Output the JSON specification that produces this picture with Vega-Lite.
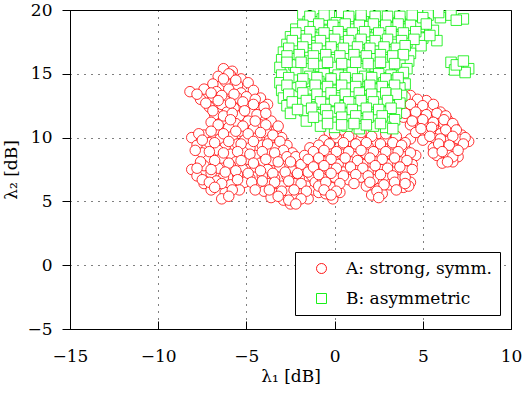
{
  "$schema": "https://vega.github.io/schema/vega-lite/v6.json",
  "width": 441,
  "height": 319,
  "autosize": "none",
  "padding": {"left": 70, "top": 10, "right": 13, "bottom": 67},
  "background": "white",
  "data": {"values": [
    {"s":"A","x":-6.3,"y":15.4},{"s":"A","x":-5.8,"y":15.2},
    {"s":"A","x":-6.6,"y":14.8},{"s":"A","x":-5.9,"y":14.9},{"s":"A","x":-5.3,"y":14.6},
    {"s":"A","x":-6.9,"y":14.2},{"s":"A","x":-6.2,"y":14.4},{"s":"A","x":-5.5,"y":14.1},{"s":"A","x":-4.9,"y":14.3},
    {"s":"A","x":-8.2,"y":13.6},{"s":"A","x":-7.4,"y":13.8},{"s":"A","x":-6.7,"y":13.6},{"s":"A","x":-6.0,"y":13.8},{"s":"A","x":-5.3,"y":13.5},{"s":"A","x":-4.6,"y":13.7},
    {"s":"A","x":-7.6,"y":13.0},{"s":"A","x":-6.9,"y":13.2},{"s":"A","x":-6.2,"y":12.9},{"s":"A","x":-5.5,"y":13.1},{"s":"A","x":-4.8,"y":12.9},{"s":"A","x":-4.2,"y":13.1},
    {"s":"A","x":-7.1,"y":12.4},{"s":"A","x":-6.4,"y":12.6},{"s":"A","x":-5.7,"y":12.3},{"s":"A","x":-5.0,"y":12.5},{"s":"A","x":-4.3,"y":12.3},{"s":"A","x":-3.8,"y":12.6},
    {"s":"A","x":-6.8,"y":11.8},{"s":"A","x":-6.1,"y":12.0},{"s":"A","x":-5.4,"y":11.7},{"s":"A","x":-4.7,"y":11.9},{"s":"A","x":-4.0,"y":11.7},
    {"s":"A","x":-7.0,"y":11.2},{"s":"A","x":-6.3,"y":11.4},{"s":"A","x":-5.6,"y":11.1},{"s":"A","x":-4.9,"y":11.3},{"s":"A","x":-4.2,"y":11.0},{"s":"A","x":-3.6,"y":11.3},
    {"s":"A","x":-6.7,"y":10.6},{"s":"A","x":-6.0,"y":10.8},{"s":"A","x":-5.3,"y":10.5},{"s":"A","x":-4.6,"y":10.7},{"s":"A","x":-3.9,"y":10.4},{"s":"A","x":-3.3,"y":10.6},
    {"s":"A","x":-8.1,"y":10.0},{"s":"A","x":-7.4,"y":10.2},{"s":"A","x":-6.5,"y":9.9},{"s":"A","x":-5.8,"y":10.1},{"s":"A","x":-5.1,"y":9.8},{"s":"A","x":-4.4,"y":10.0},{"s":"A","x":-3.7,"y":9.8},{"s":"A","x":-3.0,"y":10.0},
    {"s":"A","x":-7.8,"y":9.4},{"s":"A","x":-7.1,"y":9.6},{"s":"A","x":-6.2,"y":9.3},{"s":"A","x":-5.5,"y":9.5},{"s":"A","x":-4.8,"y":9.2},{"s":"A","x":-4.1,"y":9.4},{"s":"A","x":-3.4,"y":9.2},{"s":"A","x":-2.7,"y":9.4},
    {"s":"A","x":-7.5,"y":8.8},{"s":"A","x":-6.6,"y":9.0},{"s":"A","x":-5.9,"y":8.7},{"s":"A","x":-5.2,"y":8.9},{"s":"A","x":-4.5,"y":8.6},{"s":"A","x":-3.8,"y":8.8},{"s":"A","x":-3.1,"y":8.6},{"s":"A","x":-2.4,"y":8.8},
    {"s":"A","x":-7.2,"y":8.2},{"s":"A","x":-6.4,"y":8.4},{"s":"A","x":-5.6,"y":8.1},{"s":"A","x":-4.9,"y":8.3},{"s":"A","x":-4.2,"y":8.0},{"s":"A","x":-3.5,"y":8.2},{"s":"A","x":-2.8,"y":8.0},{"s":"A","x":-2.1,"y":8.2},
    {"s":"A","x":-8.1,"y":7.5},{"s":"A","x":-7.4,"y":7.8},{"s":"A","x":-6.6,"y":7.6},{"s":"A","x":-5.9,"y":7.8},{"s":"A","x":-5.2,"y":7.5},{"s":"A","x":-4.5,"y":7.7},{"s":"A","x":-3.8,"y":7.5},{"s":"A","x":-3.1,"y":7.7},{"s":"A","x":-2.4,"y":7.4},{"s":"A","x":-1.7,"y":7.6},
    {"s":"A","x":-7.8,"y":7.0},{"s":"A","x":-7.0,"y":7.2},{"s":"A","x":-6.3,"y":6.9},{"s":"A","x":-5.5,"y":7.1},{"s":"A","x":-4.8,"y":6.8},{"s":"A","x":-4.1,"y":7.0},{"s":"A","x":-3.4,"y":6.8},{"s":"A","x":-2.7,"y":7.0},{"s":"A","x":-2.0,"y":6.8},{"s":"A","x":-1.3,"y":7.0},
    {"s":"A","x":-7.4,"y":6.4},{"s":"A","x":-6.7,"y":6.6},{"s":"A","x":-5.9,"y":6.3},{"s":"A","x":-5.1,"y":6.5},{"s":"A","x":-4.4,"y":6.2},{"s":"A","x":-3.7,"y":6.4},{"s":"A","x":-3.0,"y":6.2},{"s":"A","x":-2.3,"y":6.4},{"s":"A","x":-1.6,"y":6.2},
    {"s":"A","x":-7.0,"y":5.9},{"s":"A","x":-6.2,"y":5.7},{"s":"A","x":-5.4,"y":5.9},{"s":"A","x":-4.0,"y":5.8},{"s":"A","x":-3.3,"y":5.6},{"s":"A","x":-2.6,"y":5.8},{"s":"A","x":-1.9,"y":5.6},{"s":"A","x":-1.2,"y":5.9},
    {"s":"A","x":-6.4,"y":5.2},{"s":"A","x":-3.6,"y":5.3},{"s":"A","x":-2.9,"y":5.1},{"s":"A","x":-2.2,"y":5.3},{"s":"A","x":-1.5,"y":5.2},
    {"s":"A","x":-2.5,"y":4.8},
    {"s":"A","x":-6.0,"y":15.0},{"s":"A","x":-6.3,"y":14.6},{"s":"A","x":-5.6,"y":14.5},{"s":"A","x":-7.8,"y":13.4},{"s":"A","x":-7.0,"y":13.5},{"s":"A","x":-6.4,"y":13.3},{"s":"A","x":-5.7,"y":13.4},{"s":"A","x":-5.0,"y":13.2},{"s":"A","x":-4.5,"y":13.0},
    {"s":"A","x":-7.3,"y":12.7},{"s":"A","x":-6.6,"y":12.9},{"s":"A","x":-5.9,"y":12.7},{"s":"A","x":-5.2,"y":12.8},{"s":"A","x":-4.6,"y":12.6},{"s":"A","x":-4.0,"y":12.4},
    {"s":"A","x":-6.9,"y":12.1},{"s":"A","x":-6.3,"y":11.7},{"s":"A","x":-5.8,"y":11.9},{"s":"A","x":-5.1,"y":12.1},{"s":"A","x":-4.4,"y":11.8},{"s":"A","x":-3.9,"y":11.9},
    {"s":"A","x":-6.6,"y":11.0},{"s":"A","x":-5.9,"y":11.4},{"s":"A","x":-5.2,"y":10.9},{"s":"A","x":-4.5,"y":11.3},{"s":"A","x":-3.9,"y":11.0},
    {"s":"A","x":-7.7,"y":10.3},{"s":"A","x":-7.0,"y":10.5},{"s":"A","x":-6.3,"y":10.3},{"s":"A","x":-5.6,"y":10.5},{"s":"A","x":-4.9,"y":10.3},{"s":"A","x":-4.2,"y":10.4},{"s":"A","x":-3.5,"y":10.2},{"s":"A","x":-3.2,"y":10.9},
    {"s":"A","x":-7.5,"y":9.8},{"s":"A","x":-6.8,"y":9.6},{"s":"A","x":-6.0,"y":9.7},{"s":"A","x":-5.3,"y":9.5},{"s":"A","x":-4.6,"y":9.7},{"s":"A","x":-3.8,"y":9.5},{"s":"A","x":-3.1,"y":9.7},{"s":"A","x":-2.9,"y":9.0},
    {"s":"A","x":-7.9,"y":9.0},{"s":"A","x":-7.1,"y":8.9},{"s":"A","x":-6.3,"y":8.8},{"s":"A","x":-5.5,"y":8.9},{"s":"A","x":-4.8,"y":8.7},{"s":"A","x":-4.1,"y":8.9},{"s":"A","x":-3.4,"y":8.8},{"s":"A","x":-2.7,"y":8.5},{"s":"A","x":-2.2,"y":8.5},
    {"s":"A","x":-7.6,"y":8.1},{"s":"A","x":-6.8,"y":8.2},{"s":"A","x":-6.0,"y":8.0},{"s":"A","x":-5.3,"y":8.2},{"s":"A","x":-4.6,"y":8.0},{"s":"A","x":-3.9,"y":8.3},{"s":"A","x":-3.2,"y":8.1},{"s":"A","x":-2.5,"y":8.1},{"s":"A","x":-1.9,"y":7.9},
    {"s":"A","x":-7.8,"y":7.6},{"s":"A","x":-7.0,"y":7.5},{"s":"A","x":-6.2,"y":7.3},{"s":"A","x":-5.6,"y":7.4},{"s":"A","x":-4.9,"y":7.2},{"s":"A","x":-4.2,"y":7.4},{"s":"A","x":-3.5,"y":7.2},{"s":"A","x":-2.8,"y":7.3},{"s":"A","x":-2.1,"y":7.2},{"s":"A","x":-1.5,"y":7.3},
    {"s":"A","x":-7.5,"y":6.7},{"s":"A","x":-7.1,"y":6.5},{"s":"A","x":-6.4,"y":6.4},{"s":"A","x":-5.5,"y":6.7},{"s":"A","x":-4.7,"y":6.5},{"s":"A","x":-4.1,"y":6.6},{"s":"A","x":-3.4,"y":6.5},{"s":"A","x":-2.6,"y":6.6},{"s":"A","x":-1.9,"y":6.4},{"s":"A","x":-1.1,"y":6.5},
    {"s":"A","x":-6.8,"y":6.1},{"s":"A","x":-5.8,"y":5.9},{"s":"A","x":-4.5,"y":5.9},{"s":"A","x":-3.7,"y":5.9},{"s":"A","x":-3.0,"y":5.8},{"s":"A","x":-2.3,"y":5.9},{"s":"A","x":-1.6,"y":5.8},{"s":"A","x":-0.9,"y":5.7},
    {"s":"A","x":-6.0,"y":5.4},{"s":"A","x":-3.2,"y":5.4},{"s":"A","x":-2.6,"y":5.1},{"s":"A","x":-1.9,"y":5.2},{"s":"A","x":-2.2,"y":4.8},
    {"s":"A","x":-0.3,"y":10.4},{"s":"A","x":0.4,"y":10.6},{"s":"A","x":1.1,"y":10.3},{"s":"A","x":1.8,"y":10.5},{"s":"A","x":2.5,"y":10.3},{"s":"A","x":3.2,"y":10.5},
    {"s":"A","x":-0.6,"y":9.8},{"s":"A","x":0.1,"y":10.0},{"s":"A","x":0.8,"y":9.7},{"s":"A","x":1.5,"y":9.9},{"s":"A","x":2.2,"y":9.7},{"s":"A","x":2.9,"y":9.9},{"s":"A","x":3.6,"y":9.7},{"s":"A","x":4.3,"y":9.9},
    {"s":"A","x":-1.4,"y":9.2},{"s":"A","x":-0.9,"y":9.4},{"s":"A","x":-0.2,"y":9.1},{"s":"A","x":0.5,"y":9.3},{"s":"A","x":1.2,"y":9.1},{"s":"A","x":1.9,"y":9.3},{"s":"A","x":2.6,"y":9.1},{"s":"A","x":3.3,"y":9.3},{"s":"A","x":4.0,"y":9.1},
    {"s":"A","x":-1.7,"y":8.6},{"s":"A","x":-1.0,"y":8.7},{"s":"A","x":-0.3,"y":8.5},{"s":"A","x":0.4,"y":8.7},{"s":"A","x":1.1,"y":8.5},{"s":"A","x":1.8,"y":8.7},{"s":"A","x":2.5,"y":8.5},{"s":"A","x":3.2,"y":8.7},{"s":"A","x":3.9,"y":8.5},{"s":"A","x":4.6,"y":8.6},
    {"s":"A","x":-1.3,"y":8.0},{"s":"A","x":-0.6,"y":8.1},{"s":"A","x":0.2,"y":7.9},{"s":"A","x":0.9,"y":8.1},{"s":"A","x":1.6,"y":7.9},{"s":"A","x":2.3,"y":8.1},{"s":"A","x":3.0,"y":7.9},{"s":"A","x":3.7,"y":8.1},{"s":"A","x":4.4,"y":7.9},
    {"s":"A","x":-1.0,"y":7.4},{"s":"A","x":-0.3,"y":7.5},{"s":"A","x":0.5,"y":7.3},{"s":"A","x":1.2,"y":7.5},{"s":"A","x":1.9,"y":7.3},{"s":"A","x":2.6,"y":7.5},{"s":"A","x":3.3,"y":7.3},{"s":"A","x":4.0,"y":7.4},
    {"s":"A","x":-0.7,"y":6.8},{"s":"A","x":0.0,"y":6.9},{"s":"A","x":0.8,"y":6.7},{"s":"A","x":1.5,"y":6.9},{"s":"A","x":2.2,"y":6.7},{"s":"A","x":2.9,"y":6.9},{"s":"A","x":3.6,"y":6.7},{"s":"A","x":4.3,"y":6.5},
    {"s":"A","x":-0.9,"y":6.2},{"s":"A","x":-0.2,"y":6.1},{"s":"A","x":1.8,"y":6.2},{"s":"A","x":2.5,"y":6.0},{"s":"A","x":3.1,"y":6.3},{"s":"A","x":3.9,"y":6.1},
    {"s":"A","x":-0.5,"y":5.6},{"s":"A","x":0.3,"y":5.7},{"s":"A","x":2.1,"y":5.5},{"s":"A","x":2.7,"y":5.6},{"s":"A","x":4.2,"y":6.2},
    {"s":"A","x":-0.1,"y":5.2},
    {"s":"A","x":0.0,"y":10.3},{"s":"A","x":0.8,"y":10.1},{"s":"A","x":1.5,"y":10.4},{"s":"A","x":2.1,"y":10.1},{"s":"A","x":2.9,"y":10.3},{"s":"A","x":3.5,"y":10.1},{"s":"A","x":4.0,"y":9.6},
    {"s":"A","x":-0.3,"y":9.5},{"s":"A","x":0.5,"y":9.6},{"s":"A","x":1.2,"y":9.5},{"s":"A","x":1.8,"y":9.6},{"s":"A","x":2.6,"y":9.5},{"s":"A","x":3.3,"y":9.6},{"s":"A","x":3.8,"y":9.4},
    {"s":"A","x":-1.2,"y":8.9},{"s":"A","x":-0.6,"y":9.0},{"s":"A","x":0.1,"y":8.9},{"s":"A","x":0.8,"y":8.9},{"s":"A","x":1.5,"y":9.0},{"s":"A","x":2.2,"y":8.9},{"s":"A","x":2.9,"y":8.9},{"s":"A","x":3.6,"y":8.9},{"s":"A","x":4.3,"y":8.8},
    {"s":"A","x":-1.5,"y":8.3},{"s":"A","x":-0.9,"y":8.4},{"s":"A","x":-0.2,"y":8.3},{"s":"A","x":0.6,"y":8.4},{"s":"A","x":1.3,"y":8.2},{"s":"A","x":2.0,"y":8.4},{"s":"A","x":2.7,"y":8.3},{"s":"A","x":3.4,"y":8.4},{"s":"A","x":4.1,"y":8.2},
    {"s":"A","x":-1.2,"y":7.7},{"s":"A","x":-0.6,"y":7.8},{"s":"A","x":0.1,"y":7.6},{"s":"A","x":0.9,"y":7.7},{"s":"A","x":1.6,"y":7.6},{"s":"A","x":2.3,"y":7.8},{"s":"A","x":3.0,"y":7.6},{"s":"A","x":3.7,"y":7.7},{"s":"A","x":4.4,"y":7.5},
    {"s":"A","x":-0.9,"y":7.1},{"s":"A","x":-0.2,"y":7.2},{"s":"A","x":0.5,"y":7.0},{"s":"A","x":1.2,"y":7.1},{"s":"A","x":1.9,"y":7.0},{"s":"A","x":2.6,"y":7.1},{"s":"A","x":3.3,"y":7.0},{"s":"A","x":4.0,"y":6.9},
    {"s":"A","x":-0.5,"y":6.5},{"s":"A","x":0.3,"y":6.4},{"s":"A","x":1.1,"y":6.4},{"s":"A","x":2.0,"y":6.5},{"s":"A","x":2.8,"y":6.3},{"s":"A","x":3.4,"y":6.5},{"s":"A","x":4.0,"y":6.4},
    {"s":"A","x":-0.6,"y":5.9},{"s":"A","x":0.1,"y":5.8},{"s":"A","x":2.4,"y":5.8},{"s":"A","x":3.5,"y":5.9},{"s":"A","x":-0.2,"y":5.5},{"s":"A","x":2.5,"y":5.3},
    {"s":"A","x":2.9,"y":13.4},{"s":"A","x":3.6,"y":13.6},{"s":"A","x":4.3,"y":13.3},
    {"s":"A","x":3.2,"y":12.8},{"s":"A","x":3.9,"y":12.9},{"s":"A","x":4.6,"y":12.7},{"s":"A","x":5.2,"y":12.9},
    {"s":"A","x":3.5,"y":12.2},{"s":"A","x":4.2,"y":12.3},{"s":"A","x":4.9,"y":12.1},{"s":"A","x":5.5,"y":12.3},{"s":"A","x":6.0,"y":12.0},
    {"s":"A","x":3.9,"y":11.6},{"s":"A","x":4.6,"y":11.7},{"s":"A","x":5.3,"y":11.5},{"s":"A","x":5.9,"y":11.7},{"s":"A","x":6.4,"y":11.4},
    {"s":"A","x":4.3,"y":11.0},{"s":"A","x":5.0,"y":11.1},{"s":"A","x":5.6,"y":10.9},{"s":"A","x":6.2,"y":11.1},{"s":"A","x":6.8,"y":10.8},
    {"s":"A","x":4.6,"y":10.4},{"s":"A","x":5.3,"y":10.5},{"s":"A","x":6.0,"y":10.3},{"s":"A","x":6.6,"y":10.5},{"s":"A","x":7.2,"y":10.2},
    {"s":"A","x":5.0,"y":9.8},{"s":"A","x":5.7,"y":9.9},{"s":"A","x":6.4,"y":9.7},{"s":"A","x":7.0,"y":9.9},{"s":"A","x":7.6,"y":9.7},
    {"s":"A","x":5.6,"y":9.2},{"s":"A","x":6.2,"y":9.3},{"s":"A","x":6.8,"y":9.1},
    {"s":"A","x":5.8,"y":8.6},{"s":"A","x":6.4,"y":8.7},{"s":"A","x":7.0,"y":8.5},
    {"s":"A","x":6.1,"y":8.0},{"s":"A","x":6.7,"y":8.1},
    {"s":"A","x":3.3,"y":13.1},{"s":"A","x":4.0,"y":13.2},{"s":"A","x":4.7,"y":13.0},{"s":"A","x":3.6,"y":12.5},{"s":"A","x":4.3,"y":12.6},{"s":"A","x":5.0,"y":12.5},{"s":"A","x":5.6,"y":12.6},
    {"s":"A","x":4.0,"y":11.9},{"s":"A","x":4.6,"y":12.0},{"s":"A","x":5.2,"y":11.8},{"s":"A","x":5.8,"y":11.9},{"s":"A","x":6.3,"y":11.7},
    {"s":"A","x":4.4,"y":11.3},{"s":"A","x":5.0,"y":11.4},{"s":"A","x":5.6,"y":11.2},{"s":"A","x":6.2,"y":11.4},{"s":"A","x":6.7,"y":11.1},
    {"s":"A","x":4.9,"y":10.7},{"s":"A","x":5.5,"y":10.8},{"s":"A","x":6.3,"y":10.6},{"s":"A","x":6.9,"y":10.6},{"s":"A","x":7.4,"y":10.0},
    {"s":"A","x":5.4,"y":10.1},{"s":"A","x":6.0,"y":9.9},{"s":"A","x":6.7,"y":10.1},{"s":"A","x":7.3,"y":9.5},
    {"s":"A","x":5.9,"y":9.5},{"s":"A","x":6.5,"y":9.4},{"s":"A","x":5.6,"y":8.8},{"s":"A","x":6.1,"y":8.9},{"s":"A","x":6.7,"y":8.5},{"s":"A","x":6.4,"y":8.1},{"s":"A","x":7.0,"y":9.0},
    {"s":"B","x":-1.8,"y":19.7},{"s":"B","x":-1.0,"y":19.9},{"s":"B","x":-0.3,"y":19.6},{"s":"B","x":0.4,"y":19.8},{"s":"B","x":1.1,"y":19.7},{"s":"B","x":1.9,"y":19.9},{"s":"B","x":2.6,"y":19.6},{"s":"B","x":3.3,"y":19.8},{"s":"B","x":4.0,"y":19.7},{"s":"B","x":4.7,"y":19.9},{"s":"B","x":5.3,"y":19.6},
    {"s":"B","x":-1.5,"y":19.1},{"s":"B","x":-0.7,"y":19.3},{"s":"B","x":0.1,"y":19.0},{"s":"B","x":0.8,"y":19.2},{"s":"B","x":1.5,"y":19.3},{"s":"B","x":2.2,"y":19.0},{"s":"B","x":3.0,"y":19.2},{"s":"B","x":3.7,"y":19.1},{"s":"B","x":4.5,"y":19.3},{"s":"B","x":5.1,"y":19.0},{"s":"B","x":6.0,"y":19.4},{"s":"B","x":6.6,"y":19.6},{"s":"B","x":7.3,"y":19.3},
    {"s":"B","x":-2.2,"y":18.5},{"s":"B","x":-1.3,"y":18.7},{"s":"B","x":-0.5,"y":18.4},{"s":"B","x":0.3,"y":18.6},{"s":"B","x":1.0,"y":18.5},{"s":"B","x":1.8,"y":18.7},{"s":"B","x":2.5,"y":18.4},{"s":"B","x":3.2,"y":18.6},{"s":"B","x":3.9,"y":18.5},{"s":"B","x":4.8,"y":18.7},{"s":"B","x":5.6,"y":18.4},
    {"s":"B","x":-2.5,"y":17.9},{"s":"B","x":-1.8,"y":18.1},{"s":"B","x":-1.0,"y":17.8},{"s":"B","x":-0.2,"y":18.0},{"s":"B","x":0.6,"y":17.9},{"s":"B","x":1.3,"y":18.1},{"s":"B","x":2.1,"y":17.8},{"s":"B","x":2.8,"y":18.0},{"s":"B","x":3.5,"y":17.9},{"s":"B","x":4.2,"y":18.1},{"s":"B","x":5.0,"y":17.8},{"s":"B","x":5.8,"y":17.6},
    {"s":"B","x":-2.7,"y":17.3},{"s":"B","x":-1.9,"y":17.5},{"s":"B","x":-1.2,"y":17.2},{"s":"B","x":-0.4,"y":17.4},{"s":"B","x":0.4,"y":17.3},{"s":"B","x":1.1,"y":17.5},{"s":"B","x":1.9,"y":17.2},{"s":"B","x":2.6,"y":17.4},{"s":"B","x":3.4,"y":17.3},{"s":"B","x":4.1,"y":17.5},{"s":"B","x":4.9,"y":17.2},
    {"s":"B","x":-2.9,"y":16.7},{"s":"B","x":-2.2,"y":16.9},{"s":"B","x":-1.4,"y":16.6},{"s":"B","x":-0.6,"y":16.8},{"s":"B","x":0.1,"y":16.7},{"s":"B","x":0.9,"y":16.9},{"s":"B","x":1.6,"y":16.6},{"s":"B","x":2.4,"y":16.8},{"s":"B","x":3.1,"y":16.7},{"s":"B","x":3.8,"y":16.9},{"s":"B","x":4.3,"y":16.6},
    {"s":"B","x":-3.0,"y":16.1},{"s":"B","x":-2.4,"y":16.3},{"s":"B","x":-1.6,"y":16.0},{"s":"B","x":-0.9,"y":16.2},{"s":"B","x":-0.1,"y":16.1},{"s":"B","x":0.7,"y":16.3},{"s":"B","x":1.4,"y":16.0},{"s":"B","x":2.2,"y":16.2},{"s":"B","x":2.9,"y":16.1},{"s":"B","x":3.6,"y":16.3},{"s":"B","x":4.2,"y":16.0},
    {"s":"B","x":-3.1,"y":15.5},{"s":"B","x":-2.3,"y":15.7},{"s":"B","x":-1.5,"y":15.4},{"s":"B","x":-0.8,"y":15.6},{"s":"B","x":0.0,"y":15.5},{"s":"B","x":0.8,"y":15.7},{"s":"B","x":1.5,"y":15.4},{"s":"B","x":2.3,"y":15.6},{"s":"B","x":3.0,"y":15.5},{"s":"B","x":3.7,"y":15.7},{"s":"B","x":4.1,"y":15.4},{"s":"B","x":6.6,"y":15.9},{"s":"B","x":7.1,"y":15.6},{"s":"B","x":7.6,"y":15.4},
    {"s":"B","x":-3.0,"y":14.9},{"s":"B","x":-2.2,"y":15.1},{"s":"B","x":-1.4,"y":14.8},{"s":"B","x":-0.6,"y":15.0},{"s":"B","x":0.2,"y":14.9},{"s":"B","x":1.0,"y":15.1},{"s":"B","x":1.7,"y":14.8},{"s":"B","x":2.5,"y":15.0},{"s":"B","x":3.2,"y":14.9},{"s":"B","x":3.9,"y":15.1},{"s":"B","x":6.8,"y":15.3},{"s":"B","x":7.4,"y":15.1},
    {"s":"B","x":-3.1,"y":14.3},{"s":"B","x":-2.4,"y":14.5},{"s":"B","x":-1.7,"y":14.2},{"s":"B","x":-0.9,"y":14.4},{"s":"B","x":-0.2,"y":14.3},{"s":"B","x":0.6,"y":14.5},{"s":"B","x":1.3,"y":14.2},{"s":"B","x":2.1,"y":14.4},{"s":"B","x":2.8,"y":14.3},{"s":"B","x":3.5,"y":14.5},{"s":"B","x":4.0,"y":14.2},
    {"s":"B","x":-3.0,"y":13.7},{"s":"B","x":-2.2,"y":13.9},{"s":"B","x":-1.5,"y":13.6},{"s":"B","x":-0.7,"y":13.8},{"s":"B","x":0.1,"y":13.7},{"s":"B","x":0.8,"y":13.9},{"s":"B","x":1.6,"y":13.6},{"s":"B","x":2.3,"y":13.8},{"s":"B","x":3.1,"y":13.7},{"s":"B","x":3.7,"y":13.9},
    {"s":"B","x":-2.9,"y":13.1},{"s":"B","x":-2.1,"y":13.3},{"s":"B","x":-1.3,"y":13.0},{"s":"B","x":-0.6,"y":13.2},{"s":"B","x":0.2,"y":13.1},{"s":"B","x":1.0,"y":13.3},{"s":"B","x":1.8,"y":13.0},{"s":"B","x":2.5,"y":13.2},{"s":"B","x":3.2,"y":13.1},{"s":"B","x":3.8,"y":13.3},
    {"s":"B","x":-2.7,"y":12.5},{"s":"B","x":-2.0,"y":12.7},{"s":"B","x":-1.2,"y":12.4},{"s":"B","x":-0.4,"y":12.6},{"s":"B","x":0.4,"y":12.5},{"s":"B","x":1.1,"y":12.7},{"s":"B","x":1.9,"y":12.4},{"s":"B","x":2.6,"y":12.6},{"s":"B","x":3.3,"y":12.5},{"s":"B","x":3.7,"y":12.7},
    {"s":"B","x":-2.5,"y":11.9},{"s":"B","x":-1.7,"y":12.1},{"s":"B","x":-0.9,"y":11.8},{"s":"B","x":-0.1,"y":12.0},{"s":"B","x":0.6,"y":11.9},{"s":"B","x":1.4,"y":12.1},{"s":"B","x":2.1,"y":11.8},{"s":"B","x":2.9,"y":12.0},{"s":"B","x":3.5,"y":11.9},
    {"s":"B","x":-1.6,"y":11.3},{"s":"B","x":-0.8,"y":11.5},{"s":"B","x":0.0,"y":11.2},{"s":"B","x":0.8,"y":11.4},{"s":"B","x":1.5,"y":11.3},{"s":"B","x":2.3,"y":11.5},{"s":"B","x":3.0,"y":11.2},{"s":"B","x":3.4,"y":11.4},
    {"s":"B","x":-0.8,"y":10.9},{"s":"B","x":0.0,"y":10.8},{"s":"B","x":0.7,"y":10.9},{"s":"B","x":1.4,"y":10.7},{"s":"B","x":2.2,"y":10.9},{"s":"B","x":2.9,"y":10.8},{"s":"B","x":3.3,"y":10.7},
    {"s":"B","x":-1.4,"y":19.5},{"s":"B","x":-0.6,"y":19.6},{"s":"B","x":0.8,"y":19.5},{"s":"B","x":1.5,"y":19.6},{"s":"B","x":2.3,"y":19.5},{"s":"B","x":3.0,"y":19.5},{"s":"B","x":3.7,"y":19.5},{"s":"B","x":4.4,"y":19.6},{"s":"B","x":5.0,"y":19.4},{"s":"B","x":5.9,"y":19.8},{"s":"B","x":6.9,"y":19.2},
    {"s":"B","x":-1.8,"y":18.8},{"s":"B","x":-0.9,"y":18.9},{"s":"B","x":-0.1,"y":18.8},{"s":"B","x":0.6,"y":18.9},{"s":"B","x":1.4,"y":18.8},{"s":"B","x":2.2,"y":18.9},{"s":"B","x":2.9,"y":18.8},{"s":"B","x":3.6,"y":18.9},{"s":"B","x":4.3,"y":18.8},{"s":"B","x":5.2,"y":18.9},
    {"s":"B","x":-2.2,"y":18.2},{"s":"B","x":-1.4,"y":18.3},{"s":"B","x":-0.6,"y":18.2},{"s":"B","x":0.2,"y":18.3},{"s":"B","x":1.0,"y":18.2},{"s":"B","x":1.7,"y":18.3},{"s":"B","x":2.5,"y":18.2},{"s":"B","x":3.2,"y":18.3},{"s":"B","x":3.9,"y":18.2},{"s":"B","x":4.6,"y":18.3},{"s":"B","x":5.4,"y":18.0},
    {"s":"B","x":-2.4,"y":17.6},{"s":"B","x":-1.6,"y":17.7},{"s":"B","x":-0.8,"y":17.6},{"s":"B","x":0.0,"y":17.7},{"s":"B","x":0.8,"y":17.6},{"s":"B","x":1.5,"y":17.7},{"s":"B","x":2.3,"y":17.6},{"s":"B","x":3.0,"y":17.7},{"s":"B","x":3.8,"y":17.6},{"s":"B","x":4.5,"y":17.7},
    {"s":"B","x":-2.6,"y":17.0},{"s":"B","x":-1.8,"y":17.1},{"s":"B","x":-1.0,"y":17.0},{"s":"B","x":-0.2,"y":17.1},{"s":"B","x":0.5,"y":17.0},{"s":"B","x":1.3,"y":17.1},{"s":"B","x":2.0,"y":17.0},{"s":"B","x":2.8,"y":17.1},{"s":"B","x":3.5,"y":17.0},{"s":"B","x":4.0,"y":17.2},
    {"s":"B","x":-2.7,"y":16.4},{"s":"B","x":-2.0,"y":16.5},{"s":"B","x":-1.2,"y":16.4},{"s":"B","x":-0.5,"y":16.5},{"s":"B","x":0.3,"y":16.4},{"s":"B","x":1.1,"y":16.5},{"s":"B","x":1.8,"y":16.4},{"s":"B","x":2.6,"y":16.5},{"s":"B","x":3.3,"y":16.4},{"s":"B","x":3.9,"y":16.5},
    {"s":"B","x":-2.7,"y":15.9},{"s":"B","x":-1.9,"y":15.9},{"s":"B","x":-1.2,"y":15.8},{"s":"B","x":-0.4,"y":15.9},{"s":"B","x":0.4,"y":15.8},{"s":"B","x":1.2,"y":15.9},{"s":"B","x":1.9,"y":15.8},{"s":"B","x":2.6,"y":15.9},{"s":"B","x":3.4,"y":15.8},{"s":"B","x":6.9,"y":15.7},{"s":"B","x":7.3,"y":16.0},
    {"s":"B","x":-2.6,"y":14.7},{"s":"B","x":-1.8,"y":14.6},{"s":"B","x":-1.0,"y":14.7},{"s":"B","x":-0.2,"y":14.6},{"s":"B","x":0.6,"y":14.7},{"s":"B","x":1.3,"y":14.6},{"s":"B","x":2.1,"y":14.7},{"s":"B","x":2.9,"y":14.6},{"s":"B","x":3.6,"y":14.7},
    {"s":"B","x":-2.7,"y":14.1},{"s":"B","x":-1.9,"y":14.0},{"s":"B","x":-1.1,"y":14.1},{"s":"B","x":-0.4,"y":14.0},{"s":"B","x":0.4,"y":14.1},{"s":"B","x":1.2,"y":14.0},{"s":"B","x":2.0,"y":14.1},{"s":"B","x":2.7,"y":14.0},{"s":"B","x":3.4,"y":14.1},
    {"s":"B","x":-2.6,"y":13.4},{"s":"B","x":-1.8,"y":13.5},{"s":"B","x":-1.0,"y":13.4},{"s":"B","x":-0.2,"y":13.5},{"s":"B","x":0.6,"y":13.4},{"s":"B","x":1.4,"y":13.5},{"s":"B","x":2.1,"y":13.4},{"s":"B","x":2.9,"y":13.5},{"s":"B","x":3.5,"y":13.4},
    {"s":"B","x":-2.4,"y":12.8},{"s":"B","x":-1.6,"y":12.9},{"s":"B","x":-0.8,"y":12.8},{"s":"B","x":0.0,"y":12.9},{"s":"B","x":0.8,"y":12.8},{"s":"B","x":1.5,"y":12.9},{"s":"B","x":2.2,"y":12.8},{"s":"B","x":3.0,"y":12.9},
    {"s":"B","x":-2.1,"y":12.2},{"s":"B","x":-1.3,"y":12.3},{"s":"B","x":-0.5,"y":12.2},{"s":"B","x":0.3,"y":12.3},{"s":"B","x":1.0,"y":12.2},{"s":"B","x":1.8,"y":12.3},{"s":"B","x":2.5,"y":12.2},{"s":"B","x":3.2,"y":12.3},
    {"s":"B","x":-1.2,"y":11.6},{"s":"B","x":-0.4,"y":11.7},{"s":"B","x":0.4,"y":11.6},{"s":"B","x":1.2,"y":11.7},{"s":"B","x":1.9,"y":11.6},{"s":"B","x":2.7,"y":11.7},
    {"s":"B","x":-0.4,"y":11.1},{"s":"B","x":0.4,"y":11.0},{"s":"B","x":1.1,"y":11.1},{"s":"B","x":1.8,"y":11.0},{"s":"B","x":2.6,"y":11.1}
  ]},
  "mark": {"type": "point", "filled": false, "fill": "white", "strokeWidth": 0.8, "opacity": 1, "clip": true},
  "encoding": {
    "x": {"field": "x", "type": "quantitative",
      "scale": {"domain": [-15, 10], "nice": false, "zero": false},
      "axis": {"values": [-15, -10, -5, 0, 5, 10], "title": "λ₁ [dB]", "tickSize": -8, "labelPadding": 27, "titlePadding": 4}},
    "y": {"field": "y", "type": "quantitative",
      "scale": {"domain": [-5, 20], "nice": false, "zero": false},
      "axis": {"values": [-5, 0, 5, 10, 15, 20], "title": "λ₂ [dB]", "tickSize": 8, "labelPadding": 10, "titlePadding": 6}},
    "color": {"field": "s", "type": "nominal",
      "scale": {"domain": ["A", "B"], "range": ["#ff0000", "#00ee00"]},
      "legend": {"title": null, "orient": "none", "legendX": 225, "legendY": 242,
        "labelExpr": "datum.label == 'A' ? 'A: strong, symm.' : 'B: asymmetric'"}},
    "shape": {"field": "s", "type": "nominal",
      "scale": {"domain": ["A", "B"], "range": ["circle", "square"]},
      "legend": {"title": null, "orient": "none", "legendX": 225, "legendY": 242,
        "labelExpr": "datum.label == 'A' ? 'A: strong, symm.' : 'B: asymmetric'"}}
  },
  "config": {
    "font": "DejaVu Serif",
    "view": {"stroke": "black", "strokeWidth": 1},
    "point": {"size": 110},
    "axis": {"domainColor": "black", "tickColor": "black", "labelColor": "black", "titleColor": "black",
      "labelFontSize": 17, "titleFontSize": 17, "labelFont": "DejaVu Serif", "titleFont": "DejaVu Serif",
      "titleFontWeight": "normal", "grid": true, "gridColor": "black", "gridDash": [1, 6], "gridWidth": 1, "gridOpacity": 1,
      "domainWidth": 1, "tickWidth": 1, "labelFlush": false, "labelOverlap": false},
    "legend": {"labelFontSize": 17, "labelFont": "DejaVu Serif", "labelColor": "black",
      "strokeColor": "black", "fillColor": "white", "padding": 8, "symbolOffset": 10, "labelOffset": 16,
      "rowPadding": 12, "symbolSize": 100, "symbolStrokeWidth": 0.9, "cornerRadius": 0}
  }
}
